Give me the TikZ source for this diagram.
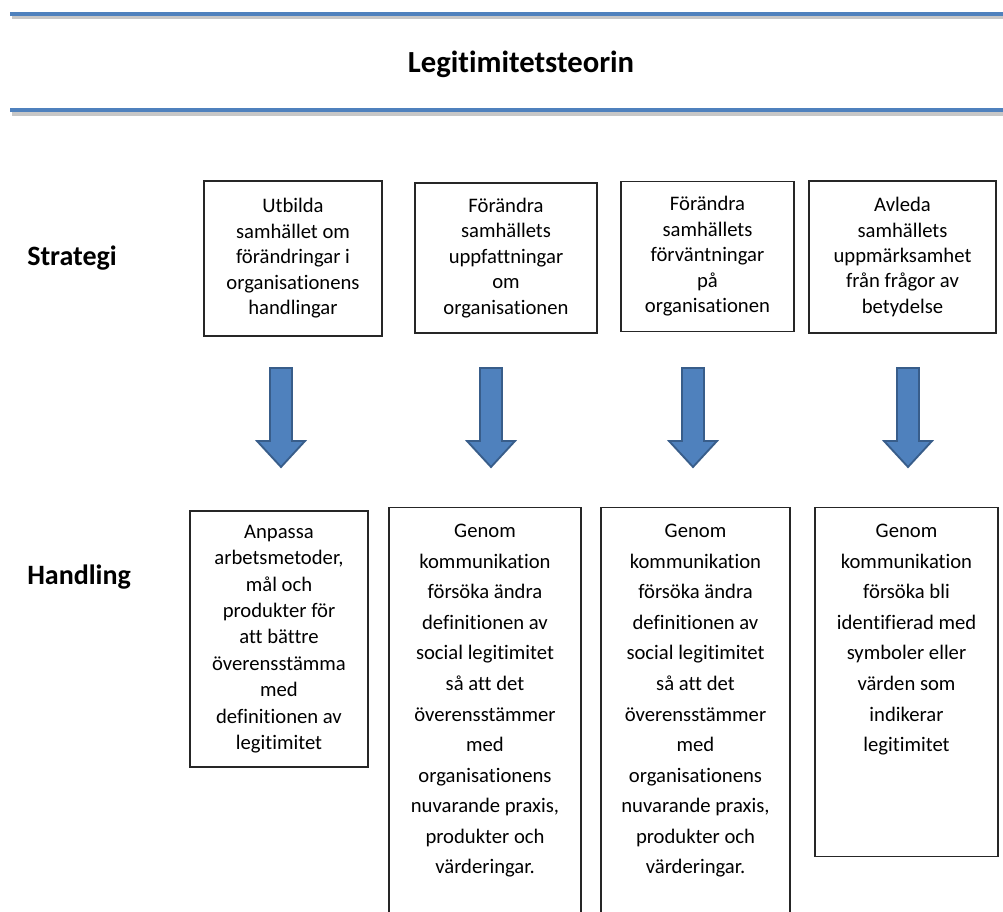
\documentclass[tikz,border=0pt]{standalone}
\usepackage{fontspec}
\setmainfont{Carlito}[Ligatures=NoCommon]
\definecolor{barblue}{HTML}{4F81BD}
\definecolor{arrowedge}{HTML}{385D8A}
\newcommand{\toptext}[3]{\parbox[t][#2][t]{#1}{\centering\vspace*{12.5pt}#3}}

\begin{document}
\begin{tikzpicture}[x=0.75pt, y=-0.75pt,
    strat/.style={draw=black!85, line width=1.1pt, align=center, inner sep=0pt, font=\fontsize{15.5}{19.1}\selectfont},
    hand/.style={draw=black!85, line width=1.1pt, inner sep=0pt, anchor=north, font=\fontsize{15.5}{22.9}\selectfont},
    rowlabel/.style={anchor=west, inner sep=0pt, font=\fontsize{21}{25}\selectfont\bfseries},
    blockarrow/.style={fill=barblue, draw=arrowedge, line width=1.4pt}]
    \useasboundingbox (0,0) rectangle (1003,912);

    % Define the title bars
    \draw[line width=3pt, black!22] (12,17.5) -- (1003,17.5);
    \draw[line width=3pt, barblue] (10,14) -- (1003,14);
    \draw[line width=3pt, black!22] (12,114) -- (1003,114);
    \draw[line width=3pt, barblue] (10,110.5) -- (1003,110.5);
    \node[font=\fontsize{23}{28}\selectfont\bfseries] (title) at (521,64) {Legitimitetsteorin};

    % Define the row labels
    \node[rowlabel] (strategi) at (27,258) {Strategi};
    \node[rowlabel] (handling) at (27,577) {Handling};

    % Define the strategies
    \node[strat, minimum width=133.5pt, minimum height=116.25pt] (s1) at (293,258.5) {Utbilda\\samhället om\\förändringar i\\organisationens\\handlingar};
    \node[strat, minimum width=136.5pt, minimum height=112.5pt] (s2) at (506,258) {Förändra\\samhällets\\uppfattningar\\om\\organisationen};
    \node[strat, minimum width=129.75pt, minimum height=112.5pt] (s3) at (707.5,256.5) {Förändra\\samhällets\\förväntningar\\på\\organisationen};
    \node[strat, minimum width=140.25pt, minimum height=114pt] (s4) at (902.5,257) {Avleda\\samhällets\\uppmärksamhet\\från frågor av\\betydelse};

    % Define the actions
    \node[strat, font=\fontsize{15.5}{19.8}\selectfont, minimum width=133.5pt, minimum height=192pt] (h1) at (279,639) {Anpassa\\arbetsmetoder,\\mål och\\produkter för\\att bättre\\överensstämma\\med\\definitionen av\\legitimitet};
    \node[hand] (h2) at (485,507) {\toptext{144pt}{309.75pt}{Genom\\kommunikation\\försöka ändra\\definitionen av\\social legitimitet\\så att det\\överensstämmer\\med\\organisationens\\nuvarande praxis,\\produkter och\\värderingar.}};
    \node[hand] (h3) at (695.5,507) {\toptext{141.75pt}{309.75pt}{Genom\\kommunikation\\försöka ändra\\definitionen av\\social legitimitet\\så att det\\överensstämmer\\med\\organisationens\\nuvarande praxis,\\produkter och\\värderingar.}};
    \node[hand] (h4) at (906.5,507) {\toptext{137.25pt}{261.75pt}{Genom\\kommunikation\\försöka bli\\identifierad med\\symboler eller\\värden som\\indikerar\\legitimitet}};

    % Draw the block arrows
    \foreach \x in {281,491,693,908}
        \draw[blockarrow] (\x-11,368) -- (\x+11,368) -- (\x+11,441) -- (\x+24,441)
            -- (\x,467) -- (\x-24,441) -- (\x-11,441) -- cycle;
\end{tikzpicture}
\end{document}
